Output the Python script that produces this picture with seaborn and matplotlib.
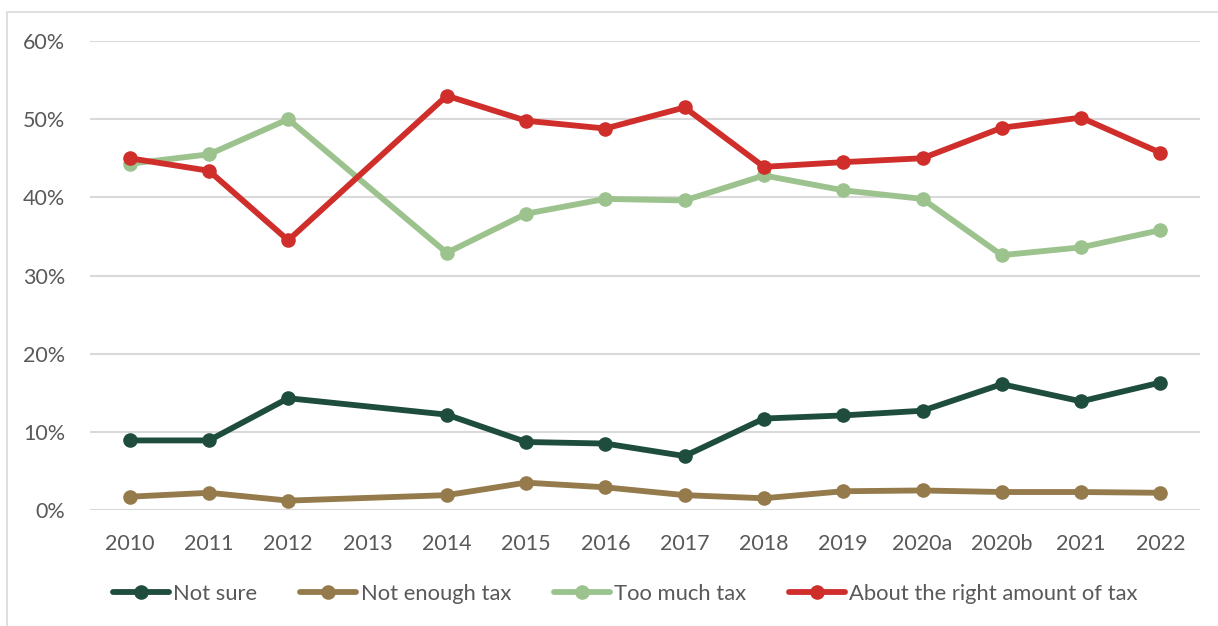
import numpy as np
import pandas as pd
import matplotlib
matplotlib.use("Agg")
import matplotlib.pyplot as plt
import seaborn as sns
from matplotlib.patches import Rectangle
from matplotlib.ticker import FuncFormatter
from matplotlib.lines import Line2D

categories = ["2010", "2011", "2012", "2013", "2014", "2015", "2016", "2017",
              "2018", "2019", "2020a", "2020b", "2021", "2022"]
not_sure = [8.9, 8.9, 14.3, np.nan, 12.2, 8.7, 8.5, 6.9, 11.7, 12.1, 12.7, 16.1, 13.9, 16.3]
not_enough = [1.7, 2.2, 1.2, np.nan, 1.9, 3.5, 2.9, 1.9, 1.5, 2.4, 2.5, 2.3, 2.3, 2.2]
too_much = [44.3, 45.5, 50.0, np.nan, 32.9, 37.9, 39.8, 39.6, 42.8, 40.9, 39.8, 32.6, 33.6, 35.8]
about_right = [45.0, 43.4, 34.5, np.nan, 53.0, 49.8, 48.8, 51.5, 43.9, 44.5, 45.0, 48.9, 50.2, 45.7]

series_names = ["Not sure", "Not enough tax", "Too much tax", "About the right amount of tax"]
colors = ["#1E4D3E", "#957A4C", "#9CC38E", "#CF2E2B"]

sns.set_theme(style="white")
plt.rcParams['font.family'] = ['Lato', 'DejaVu Sans']

rows = []
for name, vals in zip(series_names, [not_sure, not_enough, too_much, about_right]):
    for i, (cat, v) in enumerate(zip(categories, vals)):
        rows.append({"x": i, "cat": cat, "value": v / 100.0, "series": name})
df = pd.DataFrame(rows).dropna()

fig = plt.figure(figsize=(12.18, 6.26), dpi=100)
ax = fig.add_axes([90 / 1218, 1 - 510 / 626, (1200 - 90) / 1218, (510 - 41) / 626])

sns.lineplot(data=df, x="x", y="value", hue="series", hue_order=series_names,
             palette=colors, marker="o", markersize=10.5, markeredgewidth=0,
             linewidth=4.2, ax=ax, legend=False, sort=True)

ax.set_xlim(-0.5, len(categories) - 0.5)
ax.set_ylim(0, 0.6)
ax.set_yticks(np.arange(0, 0.61, 0.1))
ax.yaxis.set_major_formatter(FuncFormatter(lambda v, p: f"{v*100:.0f}%"))
ax.set_xticks(range(len(categories)))
ax.set_xticklabels(categories)
ax.set_xlabel("")
ax.set_ylabel("")
ax.grid(axis="y", color="#D9D9D9", linewidth=1.5)
ax.set_axisbelow(True)
for s in ax.spines.values():
    s.set_visible(False)
ax.tick_params(axis="both", length=0, labelsize=15.5, labelcolor="#595959")
ax.tick_params(axis="x", pad=17)
ax.tick_params(axis="y", pad=18)

handles = [Line2D([0], [0], color=c, lw=4.2, marker="o", markersize=10.5, markeredgewidth=0)
           for c in colors]
leg = fig.legend(handles, series_names, loc="center left", bbox_to_anchor=(113 / 1218, 1 - 594 / 626),
                 ncol=4, frameon=False, fontsize=15.8, handlelength=2.55, handletextpad=0.2,
                 columnspacing=1.95, borderaxespad=0, borderpad=0)
for t in leg.get_texts():
    t.set_color("#595959")

# outer frame
fig.add_artist(Rectangle((7 / 1218, -0.1), 1.2, 1 - 12 / 626 + 0.1, transform=fig.transFigure,
                         fill=False, edgecolor="#D9D9D9", linewidth=1.2))

fig.savefig("out.png", dpi=100)
